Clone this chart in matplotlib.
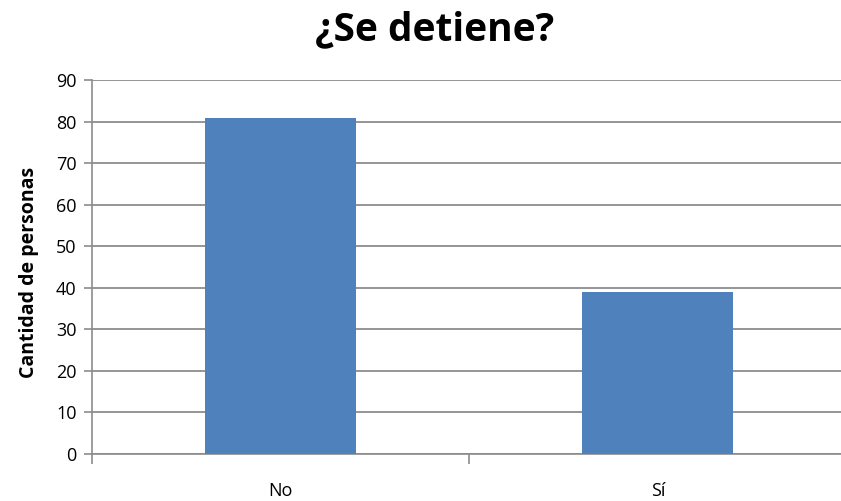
import matplotlib.pyplot as plt

categories = ["No", "Sí"]
values = [81, 39]
yticks = [0, 10, 20, 30, 40, 50, 60, 70, 80, 90]

plt.rcParams['font.family'] = ['Open Sans', 'DejaVu Sans']

fig = plt.figure(figsize=(8.41, 5.01), dpi=100)
ax = fig.add_axes([0.1094, 0.0938, 0.897, 0.746])

x = range(len(categories))
ax.bar(x, values, width=0.4, color="#4F81BD", zorder=3)

ax.set_xlim(-0.5, 1.5)
ax.set_ylim(0, 90)
ax.set_yticks(yticks)
ax.yaxis.grid(True, color="#8c8c8c", linewidth=1.3, zorder=0)

# x ticks sit at category boundaries, labels in between
ax.set_xticks([-0.5, 0.5, 1.5])
ax.set_xticklabels([])
ax.set_xticks(list(x), minor=True)
ax.set_xticklabels(categories, minor=True, fontsize=13)
ax.tick_params(axis="x", which="major", length=7, color="#8c8c8c", width=1.2)
ax.tick_params(axis="x", which="minor", length=0, pad=20)
ax.tick_params(axis="y", length=6, color="#8c8c8c", width=1.2, labelsize=13, pad=5)

for s in ["top", "right"]:
    ax.spines[s].set_visible(False)
for s in ["left", "bottom"]:
    ax.spines[s].set_color("#8c8c8c")
    ax.spines[s].set_linewidth(1.2)

ax.set_ylabel("Cantidad de personas", fontsize=14, fontweight="bold")
ax.yaxis.set_label_coords(-0.07, 0.487)
fig.suptitle("¿Se detiene?", fontsize=28, fontweight="bold", x=0.517, y=0.98)

fig.savefig("out.png", dpi=100)
